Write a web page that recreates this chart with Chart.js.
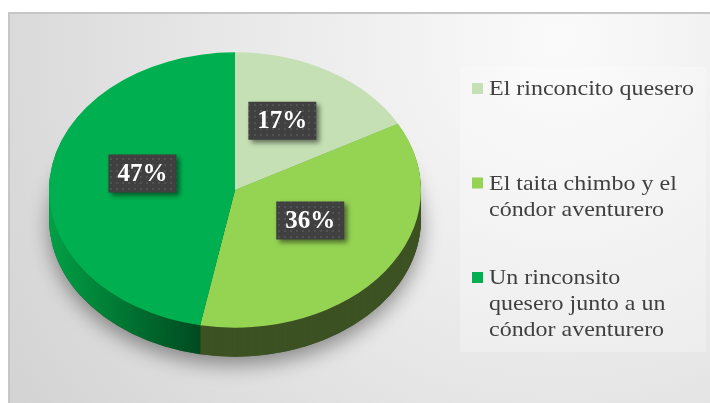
<!DOCTYPE html>
<html lang="es">
<head>
<meta charset="UTF-8">
<title>Pie</title>
<style>
  html, body { margin: 0; padding: 0; background: #fff; }
  canvas { display: block; }
</style>
</head>
<body>
<canvas id="myChart" width="710" height="403"></canvas>
<script src="https://cdn.jsdelivr.net/npm/chart.js"></script>
<script>
// data
const categories = [
  ['El rinconcito quesero'],
  ['El taita chimbo y el', 'cóndor aventurero'],
  ['Un rinconsito', 'quesero junto a un', 'cóndor aventurero']
];
const values = [17, 36, 47];
const percentLabels = ['17%', '36%', '47%'];

// colours
const topColors = ['#c5e0b4', '#95d353', '#00b050'];
const sideColors = ['#8ea67e', '#3d5223', null]; // last one is a gradient

// 3d look
const tilt = 0.74;
const depth = 29;
const faceCY = 190;

function squash(ctx, el) {
  ctx.translate(el.x, faceCY);
  ctx.scale(1, tilt);
  ctx.translate(-el.x, -el.y);
}

// background + frame
const backdrop = {
  id: 'backdrop',
  beforeDraw(chart) {
    const ctx = chart.ctx;
    ctx.save();
    ctx.fillStyle = '#ffffff';
    ctx.fillRect(0, 0, 710, 403);
    const g = ctx.createRadialGradient(560, 40, 10, 560, 40, 720);
    g.addColorStop(0, '#fafafa');
    g.addColorStop(0.45, '#e8e8e8');
    g.addColorStop(1, '#cfcfcf');
    ctx.fillStyle = g;
    ctx.fillRect(9, 13, 701, 390);
    ctx.strokeStyle = '#c6c6c6';
    ctx.lineWidth = 2;
    ctx.beginPath();
    ctx.moveTo(9, 403);
    ctx.lineTo(9, 13);
    ctx.lineTo(710, 13);
    ctx.stroke();
    // legend panel
    ctx.fillStyle = 'rgba(255,255,255,0.25)';
    ctx.fillRect(460, 67, 246, 285);
    ctx.restore();
  }
};

// side walls of the pie
const walls = {
  id: 'walls',
  beforeDatasetsDraw(chart) {
    const ctx = chart.ctx;
    const arcs = chart.getDatasetMeta(0).data;
    if (!arcs.length) return;
    const c = arcs[0];
    // drop shadow
    ctx.save();
    ctx.shadowColor = 'rgba(0,0,0,0.4)';
    ctx.shadowBlur = 20;
    ctx.shadowOffsetY = 8;
    ctx.translate(0, depth);
    squash(ctx, c);
    ctx.beginPath();
    ctx.arc(c.x, c.y, c.outerRadius, 0, Math.PI * 2);
    ctx.fillStyle = '#3d5223';
    ctx.fill();
    ctx.restore();

    const grad = ctx.createLinearGradient(c.x - c.outerRadius, 0, c.x - 35, 0);
    grad.addColorStop(0, '#00a045');
    grad.addColorStop(1, '#004a20');
    for (let d = depth; d >= 1; d--) {
      arcs.forEach((el, i) => {
        ctx.save();
        ctx.translate(0, d);
        squash(ctx, el);
        ctx.beginPath();
        ctx.moveTo(el.x, el.y);
        ctx.arc(el.x, el.y, el.outerRadius, el.startAngle, el.endAngle);
        ctx.closePath();
        ctx.fillStyle = sideColors[i] || grad;
        ctx.fill();
        ctx.restore();
      });
    }
    // top face gets squashed too
    ctx.save();
    squash(ctx, c);
  },
  afterDatasetsDraw(chart) {
    chart.ctx.restore();
  }
};

// dark boxes with percentages
const dotCanvas = document.createElement('canvas');
dotCanvas.width = 6; dotCanvas.height = 6;
const dctx = dotCanvas.getContext('2d');
dctx.fillStyle = '#404040';
dctx.fillRect(0, 0, 6, 6);
dctx.fillStyle = '#525252';
dctx.fillRect(2, 2, 2, 2);

const boxLabels = {
  id: 'boxLabels',
  afterDatasetsDraw(chart) {
    const ctx = chart.ctx;
    const arcs = chart.getDatasetMeta(0).data;
    const pattern = ctx.createPattern(dotCanvas, 'repeat');
    arcs.forEach((el, i) => {
      const mid = (el.startAngle + el.endAngle) / 2;
      const r = el.outerRadius * 0.5;
      const x = el.x + Math.cos(mid) * r;
      const y = faceCY + Math.sin(mid) * r * tilt - 10;
      ctx.save();
      ctx.font = 'bold 25px "Liberation Serif", "Times New Roman", serif';
      const w = ctx.measureText(percentLabels[i]).width + 18;
      const h = 38;
      ctx.shadowColor = 'rgba(0,0,0,0.5)';
      ctx.shadowBlur = 5;
      ctx.shadowOffsetX = 3;
      ctx.shadowOffsetY = 3;
      ctx.fillStyle = pattern;
      ctx.fillRect(x - w / 2, y - h / 2, w, h);
      ctx.shadowColor = 'transparent';
      ctx.fillStyle = '#ffffff';
      ctx.textAlign = 'center';
      ctx.textBaseline = 'middle';
      ctx.fillText(percentLabels[i], x, y + 1);
      ctx.restore();
    });
  }
};

// legend on the right, wrapped lines
const sideLegend = {
  id: 'sideLegend',
  afterDraw(chart) {
    const ctx = chart.ctx;
    ctx.save();
    ctx.font = '22px "Liberation Serif", "Times New Roman", serif';
    ctx.textBaseline = 'alphabetic';
    chart.data.labels.forEach((lines, i) => {
      const base = 95 + i * 94.5;
      ctx.fillStyle = topColors[i];
      ctx.fillRect(472, base - 12, 11, 11);
      ctx.fillStyle = '#404040';
      lines.forEach((t, j) => {
        ctx.save();
        ctx.translate(489, base + j * 26);
        ctx.scale(1.09, 1);
        ctx.fillText(t, 0, 0);
        ctx.restore();
      });
    });
    ctx.restore();
  }
};

const data = {
  labels: categories,
  datasets: [{
    data: values,
    backgroundColor: topColors,
    borderWidth: 0
  }]
};

const config = {
  type: 'pie',
  data,
  options: {
    responsive: false,
    animation: false,
    layout: { padding: { left: 49, right: 289, top: 16, bottom: 15 } },
    plugins: {
      legend: { display: false },
      tooltip: { enabled: false }
    }
  },
  plugins: [backdrop, walls, boxLabels, sideLegend]
};

const myChart = new Chart(document.getElementById('myChart'), config);
</script>
</body>
</html>
